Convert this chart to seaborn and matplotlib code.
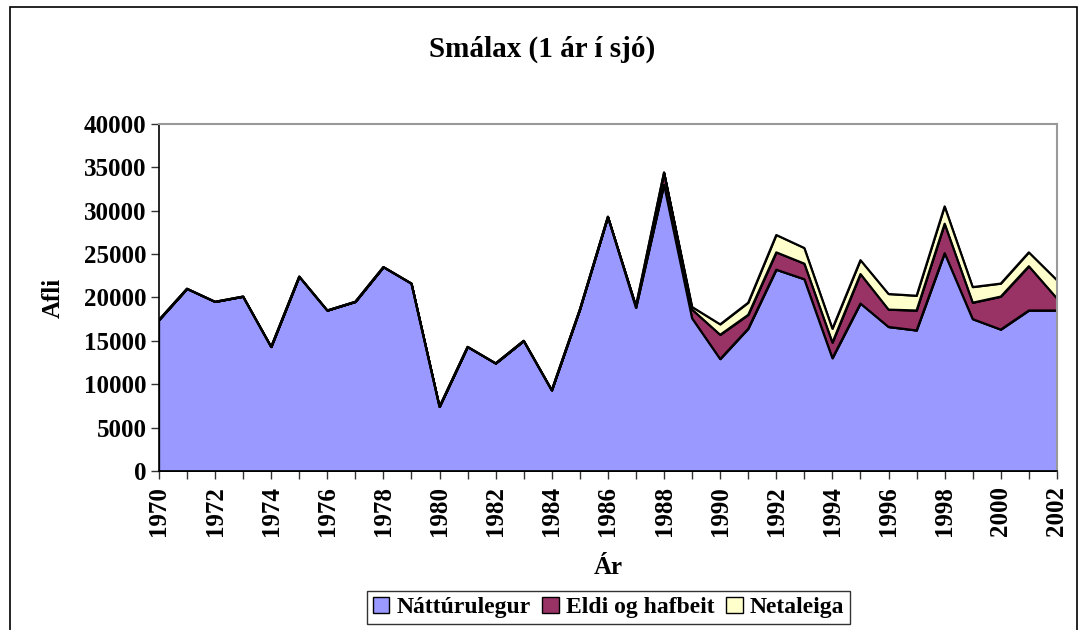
import matplotlib
matplotlib.use("Agg")
import matplotlib.pyplot as plt
import seaborn as sns
import pandas as pd
import numpy as np
from matplotlib.patches import Rectangle

# data
years = list(range(1970, 2003))
natturulegur = [17400, 21000, 19500, 20100, 14300, 22400, 18500, 19500, 23500, 21600,
                7400, 14300, 12400, 15000, 9300, 18600, 29300, 18800, 33000, 17600,
                12900, 16400, 23200, 22100, 13000, 19300, 16600, 16200, 25100, 17500,
                16300, 18500, 18500]
eldi = [0, 0, 0, 0, 0, 0, 0, 0, 0, 0,
        0, 0, 0, 0, 0, 0, 0, 200, 1400, 1000,
        2800, 1600, 2000, 1800, 1800, 3400, 2000, 2300, 3400, 1900,
        3800, 5100, 1400]
netaleiga = [0, 0, 0, 0, 0, 0, 0, 0, 0, 0,
             0, 0, 0, 0, 0, 0, 0, 0, 0, 300,
             1200, 1400, 2000, 1800, 1600, 1600, 1800, 1700, 2000, 1800,
             1500, 1600, 2100]
series_names = ["Náttúrulegur", "Eldi og hafbeit", "Netaleiga"]
colors = ["#9999FF", "#993366", "#FFFFCC"]

df = pd.DataFrame({"Ár": years, series_names[0]: natturulegur,
                   series_names[1]: eldi, series_names[2]: netaleiga})

sns.set_style("white")
plt.rcParams["font.family"] = ["Liberation Serif", "DejaVu Serif"]
plt.rcParams["font.weight"] = "bold"
plt.rcParams["text.color"] = "black"
plt.rcParams["axes.labelcolor"] = "black"
plt.rcParams["xtick.labelcolor"] = "black"
plt.rcParams["ytick.labelcolor"] = "black"

fig = plt.figure(figsize=(10.85, 6.3), dpi=100)
ax = fig.add_axes([0.1465, 0.2524, 0.8276, 0.5508])

ax.stackplot(df["Ár"], df[series_names[0]], df[series_names[1]], df[series_names[2]],
             colors=colors, labels=series_names, edgecolor="none")

# black outlines on top of each layer
cum = df[series_names].cumsum(axis=1)
for name in series_names:
    sns.lineplot(x=df["Ár"], y=cum[name], ax=ax, color="black", linewidth=1.6, legend=False)

ax.set_xlim(1970, 2002)
ax.set_ylim(0, 40000)
ax.set_yticks(range(0, 40001, 5000))
ax.set_xticks(range(1970, 2003, 2))
ax.set_xticks(range(1970, 2003, 1), minor=True)
ax.tick_params(axis="x", which="both", direction="out", length=6, width=1, color="#333333",
               labelsize=18, labelrotation=90, pad=5, bottom=True, labelcolor="black")
ax.tick_params(axis="y", direction="out", length=6, width=1, color="#333333",
               labelsize=18, pad=3, left=True, labelcolor="black")
for lab in ax.get_xticklabels() + ax.get_yticklabels():
    lab.set_fontweight("bold")

for s in ["left", "bottom"]:
    ax.spines[s].set_color("black")
    ax.spines[s].set_linewidth(1.2)
for s in ["top", "right"]:
    ax.spines[s].set_color("#999999")
    ax.spines[s].set_linewidth(1.5)

ax.set_xlabel("Ár", fontsize=18, fontweight="bold", labelpad=14, color="black")
ax.set_ylabel("Afli", fontsize=18, fontweight="bold", labelpad=14, color="black")
fig.text(0.5, 0.922, "Smálax (1 ár í sjó)", ha="center", va="center",
         fontsize=21, fontweight="bold", color="black")

handles, labels = ax.get_legend_handles_labels()
for h in handles:
    h.set_edgecolor("black")
    h.set_linewidth(1)
leg = fig.legend(handles, labels, loc="center", bbox_to_anchor=(0.561, 0.036), ncol=3,
                 frameon=True, fancybox=False, edgecolor="black",
                 handlelength=0.7, handleheight=0.7, handletextpad=0.3,
                 columnspacing=0.5, borderpad=0.25, prop={"weight": "bold", "size": 17})
leg.get_frame().set_linewidth(1)
for t in leg.get_texts():
    t.set_color("black")

# outer chart border
fig.patches.append(Rectangle((10 / 1085, -0.05), 1067 / 1085, 1 - 7 / 630 + 0.05,
                             transform=fig.transFigure, fill=False,
                             edgecolor="black", linewidth=1.2))

fig.savefig("out.png", dpi=100)
